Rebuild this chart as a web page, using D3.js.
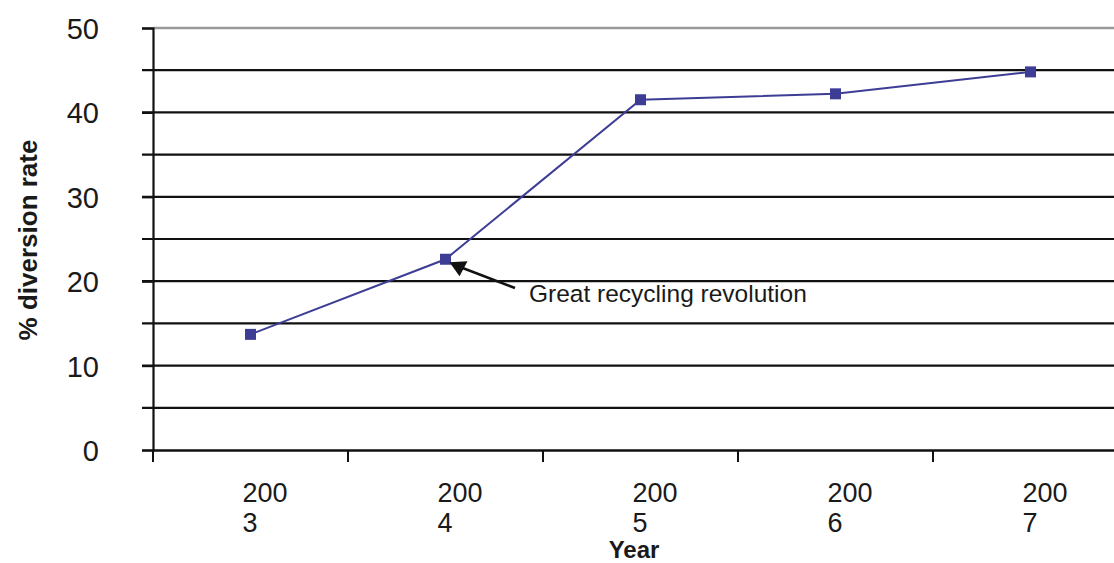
<!DOCTYPE html>
<html>
<head>
<meta charset="utf-8">
<script src="https://cdn.jsdelivr.net/npm/d3@7"></script>
<style>
  body { margin: 0; background: #fff; }
  text { font-family: "Liberation Sans", Arial, sans-serif; }
</style>
</head>
<body>
<div id="chart"></div>
<script>
var years = ['2003', '2004', '2005', '2006', '2007'];
var diversion = [13.7, 22.6, 41.5, 42.2, 44.8];
var yTicks = [0, 10, 20, 30, 40, 50];
var gridValues = [5, 10, 15, 20, 25, 30, 35, 40, 45];
var note = 'Great recycling revolution';

var width = 1114, height = 563;
var plotLeft = 153, plotTop = 28, plotBottom = 450, plotRight = 1128;

var svg = d3.select('#chart').append('svg')
    .attr('width', width)
    .attr('height', height);

var x = d3.scaleBand().domain(years).range([plotLeft, plotRight]);
var y = d3.scaleLinear().domain([0, 50]).range([plotBottom, plotTop]);

// horizontal grid
svg.selectAll('line.grid')
    .data(gridValues).enter()
    .append('line')
    .attr('class', 'grid')
    .attr('x1', plotLeft - 11).attr('x2', plotRight)
    .attr('y1', function(d) { return y(d); })
    .attr('y2', function(d) { return y(d); })
    .attr('stroke', '#111')
    .attr('stroke-width', 2.2);

// top line is grey
svg.append('line')
    .attr('x1', plotLeft).attr('x2', plotRight)
    .attr('y1', y(50)).attr('y2', y(50))
    .attr('stroke', '#9a9a9a')
    .attr('stroke-width', 2.4);

// y axis
var yAxis = svg.append('g')
    .attr('transform', 'translate(' + plotLeft + ',0)')
    .call(d3.axisLeft(y).tickValues(yTicks).tickSize(11).tickPadding(43));
yAxis.select('.domain').attr('stroke', '#111').attr('stroke-width', 2.2);
yAxis.selectAll('.tick line').attr('stroke', '#111').attr('stroke-width', 2.2);
yAxis.selectAll('.tick text')
    .attr('font-size', 29)
    .attr('fill', '#1a1a1a')
    .attr('font-family', '"Liberation Sans", Arial, sans-serif')
    .attr('dy', '0.36em');

// x axis
var xAxis = svg.append('g')
    .attr('transform', 'translate(0,' + plotBottom + ')')
    .call(d3.axisBottom(x).tickSize(0).tickFormat(''));
xAxis.select('.domain').attr('stroke', '#111').attr('stroke-width', 2.6);

var bounds = years.map(function(d) { return x(d); });
bounds.push(plotRight);
svg.selectAll('line.xtick')
    .data(bounds).enter()
    .append('line')
    .attr('class', 'xtick')
    .attr('x1', function(d) { return d; })
    .attr('x2', function(d) { return d; })
    .attr('y1', plotBottom).attr('y2', plotBottom + 12)
    .attr('stroke', '#111')
    .attr('stroke-width', 2);

var labels = svg.selectAll('text.xlab')
    .data(years).enter()
    .append('text')
    .attr('class', 'xlab')
    .attr('font-size', 27)
    .attr('fill', '#1a1a1a');
labels.append('tspan')
    .attr('x', function(d) { return x(d) + x.bandwidth() / 2 - 8; })
    .attr('y', 502)
    .text(function(d) { return d.slice(0, 3); });
labels.append('tspan')
    .attr('x', function(d) { return x(d) + x.bandwidth() / 2 - 8; })
    .attr('y', 532)
    .text(function(d) { return d.slice(3); });

// axis titles
svg.append('text')
    .attr('x', 634).attr('y', 558)
    .attr('text-anchor', 'middle')
    .attr('font-size', 24)
    .attr('font-weight', 'bold')
    .attr('fill', '#1a1a1a')
    .text('Year');

svg.append('text')
    .attr('transform', 'translate(37,' + 240 + ') rotate(-90)')
    .attr('text-anchor', 'middle')
    .attr('font-size', 26)
    .attr('font-weight', 'bold')
    .attr('fill', '#1a1a1a')
    .text('% diversion rate');

// series
var line = d3.line()
    .x(function(d, i) { return x(years[i]) + x.bandwidth() / 2; })
    .y(function(d) { return y(d); });

svg.append('path')
    .datum(diversion)
    .attr('d', line)
    .attr('fill', 'none')
    .attr('stroke', '#3d3d96')
    .attr('stroke-width', 2);

svg.selectAll('rect.marker')
    .data(diversion).enter()
    .append('rect')
    .attr('class', 'marker')
    .attr('x', function(d, i) { return x(years[i]) + x.bandwidth() / 2 - 5.5; })
    .attr('y', function(d) { return y(d) - 5.5; })
    .attr('width', 11).attr('height', 11)
    .attr('fill', '#3d3d96');

// annotation arrow
var px = x('2004') + x.bandwidth() / 2, py = y(diversion[1]);
svg.append('line')
    .attr('x1', 515).attr('y1', 288)
    .attr('x2', px + 10).attr('y2', py + 6)
    .attr('stroke', '#111')
    .attr('stroke-width', 2.5);
svg.append('path')
    .attr('d', d3.line()([[px + 4, py + 3], [px + 22, py + 2], [px + 14, py + 17]]))
    .attr('fill', '#111');

svg.append('text')
    .attr('x', 529).attr('y', 302)
    .attr('font-size', 24.5)
    .attr('fill', '#1a1a1a')
    .text(note);
</script>
</body>
</html>
